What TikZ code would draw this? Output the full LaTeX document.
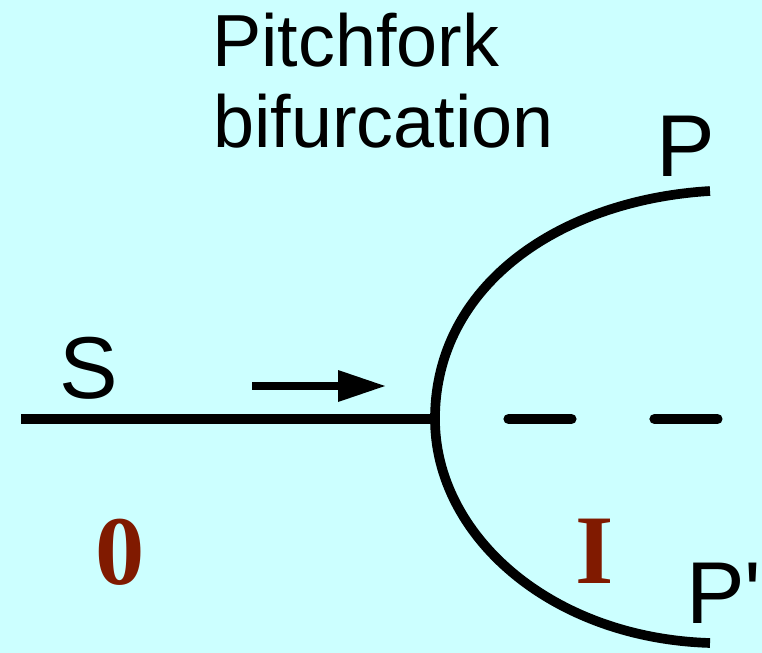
\documentclass[tikz,border=0pt]{standalone}
\usepackage{fontspec}
\setmainfont{Liberation Sans}
\newfontfamily\numfont{Liberation Serif}
\usetikzlibrary{arrows.meta}

\definecolor{panelcyan}{RGB}{204,255,255}
\definecolor{regionred}{RGB}{128,26,0}

\begin{document}
\begin{tikzpicture}[
    x=0.02cm, y=-0.02cm,
    %% heading text
    heading/.style={anchor=base west, inner sep=0pt,
        font=\fontsize{42}{48}\selectfont},
    %% branch label (S, P, P')
    branch/.style={anchor=base west, inner sep=0pt,
        font=\fontsize{50}{56}\selectfont},
    %% region number
    region/.style={anchor=base, inner sep=0pt, text=regionred,
        font=\numfont\bfseries\fontsize{56}{60}\selectfont},
    %% solid (stable) branch
    stable/.style={line width=5.5pt},
    %% dashed (unstable) branch
    unstable/.style={line width=5.8pt, line cap=round,
        dash pattern=on 1.26cm off 1.66cm},
    %% direction of the control parameter
    flow/.style={-{Triangle[length=0.94cm, width=0.64cm, line width=0pt]},
        line width=4.5pt}
]

%%-------------------------------------------------------------- frame
\fill[panelcyan] (0,0) rectangle (762,653);
\useasboundingbox (0,0) rectangle (762,653);

%%-------------------------------------------------------------- points
\coordinate (start)  at (21,419);
\coordinate (vertex) at (435,419);
\coordinate (upper)  at (710,191);
\coordinate (lower)  at (710,643);
\coordinate (dashA)  at (508.5,419);
\coordinate (dashB)  at (717.5,419);
\coordinate (tail)   at (252,386);
\coordinate (tip)    at (385,386);

%%-------------------------------------------------------------- nodes
\node[heading] (pitch) at (212,66)  {Pitchfork};
\node[heading] (bif)   at (213,147) {bifurcation};

\node[branch]  (S)     at (59,398)  {S};
\node[branch]  (P)     at (656,176) {P};
\node[branch]  (Pp)    at (686,623) {P\textquotesingle};

\node[region]  (zero)  at (120,584) {0};
\node[region]  (one)   at (595,583) {I};

%%-------------------------------------------------------------- branches
% stable branch before the bifurcation
\draw[stable] (start) -- (vertex);

% the two new stable branches
\draw[stable] (upper) .. controls (560,200) and (435,285) .. (vertex)
              .. controls (435,535) and (550,638) .. (lower);

% old branch, now unstable
\draw[unstable] (dashA) -- (dashB);

% parameter direction
\draw[flow] (tail) -- (tip);

\end{tikzpicture}
\end{document}
